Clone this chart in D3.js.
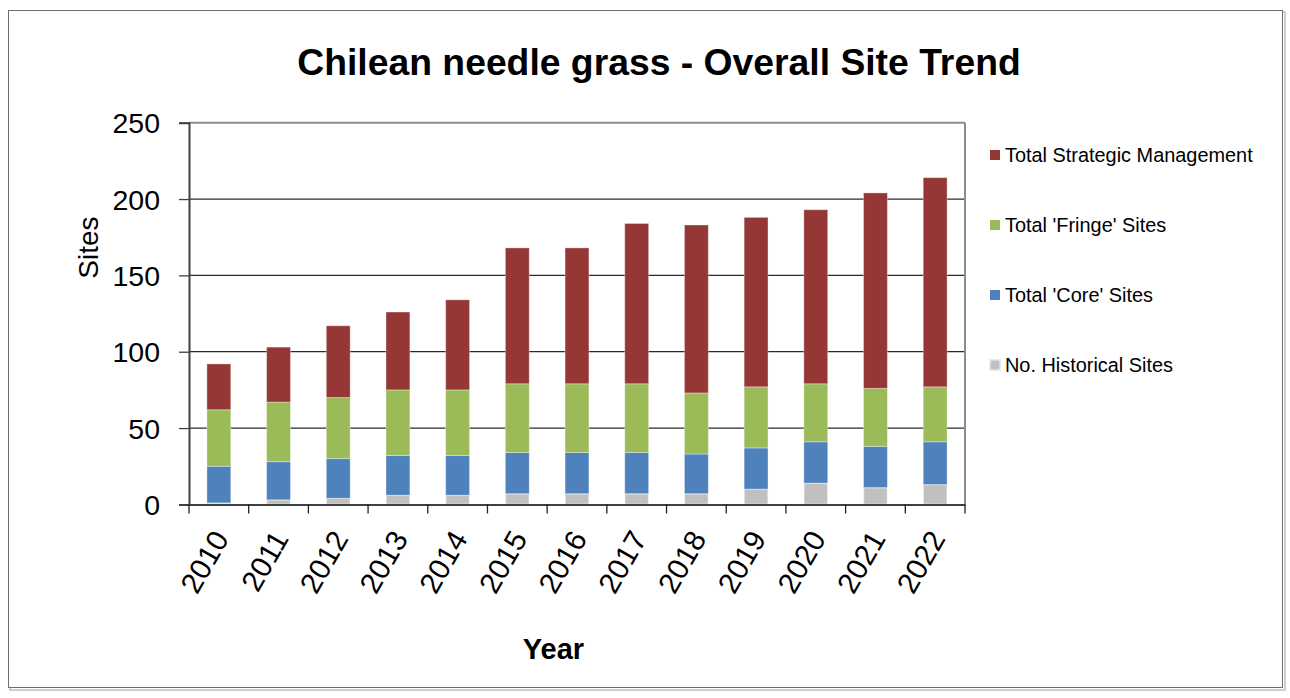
<!DOCTYPE html>
<html>
<head>
<meta charset="utf-8">
<script src="https://cdn.jsdelivr.net/npm/d3@7/dist/d3.min.js"></script>
<style>
  html, body { margin: 0; padding: 0; background: #fff; }
  svg { display: block; font-family: "Liberation Sans", Arial, sans-serif; }
</style>
</head>
<body>
<svg id="chart" width="1290" height="698"></svg>
<script>
// ---- data ----
const years = ["2010","2011","2012","2013","2014","2015","2016","2017","2018","2019","2020","2021","2022"];
const historical = [1,3,4,6,6,7,7,7,7,10,14,11,13];
const core       = [24,25,26,26,26,27,27,27,26,27,27,27,28];
const fringe     = [37,39,40,43,43,45,45,45,40,40,38,38,36];
const strategic  = [30,36,47,51,59,89,89,105,110,111,114,128,137];
const seriesNames = ["No. Historical Sites","Total 'Core' Sites","Total 'Fringe' Sites","Total Strategic Management"];
const seriesColors = ["#C0C0C0","#4F81BD","#9BBB59","#953735"];
const yTicks = [0,50,100,150,200,250];
const titleText = "Chilean needle grass - Overall Site Trend";

// ---- layout ----
const svg = d3.select("#chart");
const plot = {left: 189, right: 965, top: 122.7, bottom: 504.4};

// outer border with shadow
svg.append("rect").attr("x", 10).attr("y", 12).attr("width", 1275).attr("height", 678)
  .attr("fill", "none").attr("stroke", "#bfbfbf").attr("stroke-width", 1.5);
svg.append("rect").attr("x", 8.5).attr("y", 10.5).attr("width", 1274).attr("height", 677)
  .attr("fill", "#fff").attr("stroke", "#6e6e6e").attr("stroke-width", 1);

const table = years.map((y, i) => ({
  year: y,
  "No. Historical Sites": historical[i],
  "Total 'Core' Sites": core[i],
  "Total 'Fringe' Sites": fringe[i],
  "Total Strategic Management": strategic[i]
}));
const stacked = d3.stack().keys(seriesNames)(table);

const x = d3.scaleBand().domain(years).range([plot.left, plot.right]).padding(0);
const yS = d3.scaleLinear().domain([0, 250]).range([plot.bottom, plot.top]);
const color = d3.scaleOrdinal().domain(seriesNames).range(seriesColors);

// gridlines
svg.append("g").selectAll("line").data(yTicks.filter(t => t > 0)).join("line")
  .attr("x1", plot.left).attr("x2", plot.right)
  .attr("y1", d => yS(d)).attr("y2", d => yS(d))
  .attr("stroke", d => d === 250 ? "#8c8c8c" : "#2a2a2a")
  .attr("stroke-width", d => d === 250 ? 2 : 1.2);
// right border
svg.append("line").attr("x1", plot.right).attr("x2", plot.right)
  .attr("y1", plot.top).attr("y2", plot.bottom)
  .attr("stroke", "#8c8c8c").attr("stroke-width", 2);

// bars
const barW = x.bandwidth() * 0.4;
svg.append("g").selectAll("g").data(stacked).join("g")
  .attr("fill", d => color(d.key))
  .selectAll("rect").data(d => d.map(v => ({v, key: d.key}))).join("rect")
  .attr("x", d => x(d.v.data.year) + (x.bandwidth() - barW) / 2)
  .attr("width", barW)
  .attr("y", d => yS(d.v[1]))
  .attr("height", d => Math.max(0, yS(d.v[0]) - yS(d.v[1])))
  .attr("stroke", d => d.key === "No. Historical Sites" ? "rgba(255,255,255,0.55)" : "rgba(255,255,255,0.35)")
  .attr("stroke-width", d => d.key === "No. Historical Sites" ? 1.5 : 1);

// y axis
const yAxis = svg.append("g").attr("transform", `translate(${plot.left},0)`)
  .call(d3.axisLeft(yS).tickValues(yTicks).tickSize(10).tickPadding(6));
yAxis.select(".domain").attr("stroke", "#404040").attr("stroke-width", 2);
yAxis.selectAll(".tick line").attr("stroke", "#404040").attr("stroke-width", 1.3);
yAxis.selectAll(".tick text").attr("font-size", 28.5).attr("fill", "#000")
  .attr("font-family", "'Liberation Sans', Arial, sans-serif").attr("dy", "0.36em").attr("x", -29);

// x axis
const xAxis = svg.append("g").attr("transform", `translate(0,${plot.bottom})`)
  .call(d3.axisBottom(x).tickSize(0).tickFormat(""));
xAxis.select(".domain").attr("stroke", "#404040").attr("stroke-width", 2);
// tick marks between categories
const bounds = years.map(y => x(y)).concat([plot.right]);
svg.append("g").selectAll("line").data(bounds).join("line")
  .attr("x1", d => d).attr("x2", d => d)
  .attr("y1", plot.bottom).attr("y2", plot.bottom + 9)
  .attr("stroke", "#202020").attr("stroke-width", 1.3);
// rotated labels
svg.append("g").selectAll("text").data(years).join("text")
  .attr("transform", d => `translate(${x(d) + x.bandwidth() / 2 + 2},${plot.bottom + 29}) rotate(-60)`)
  .attr("text-anchor", "end").attr("dy", "0.35em")
  .attr("font-size", 29.5).attr("fill", "#000")
  .text(d => d);

// titles
svg.append("text").attr("x", 659).attr("y", 75).attr("text-anchor", "middle")
  .attr("font-size", 37.3).attr("font-weight", "bold").attr("fill", "#000").text(titleText);
svg.append("text").attr("x", 553.5).attr("y", 659).attr("text-anchor", "middle")
  .attr("font-size", 29).attr("font-weight", "bold").attr("fill", "#000").text("Year");
svg.append("text").attr("transform", "translate(98,247.5) rotate(-90)").attr("text-anchor", "middle")
  .attr("font-size", 28).attr("fill", "#000").text("Sites");

// legend
const legendOrder = seriesNames.slice().reverse();
const lg = svg.append("g").selectAll("g").data(legendOrder).join("g")
  .attr("transform", (d, i) => `translate(990,${155 + i * 70})`);
lg.append("rect").attr("x", 0).attr("y", -5).attr("width", 10).attr("height", 10)
  .attr("fill", d => color(d))
  .attr("stroke", d => d === "No. Historical Sites" ? "#e6e6e6" : "none").attr("stroke-width", 1.5);
lg.append("text").attr("x", 15).attr("y", 0).attr("dy", "0.36em")
  .attr("font-size", 19.9).attr("fill", "#000").text(d => d);
</script>
</body>
</html>
